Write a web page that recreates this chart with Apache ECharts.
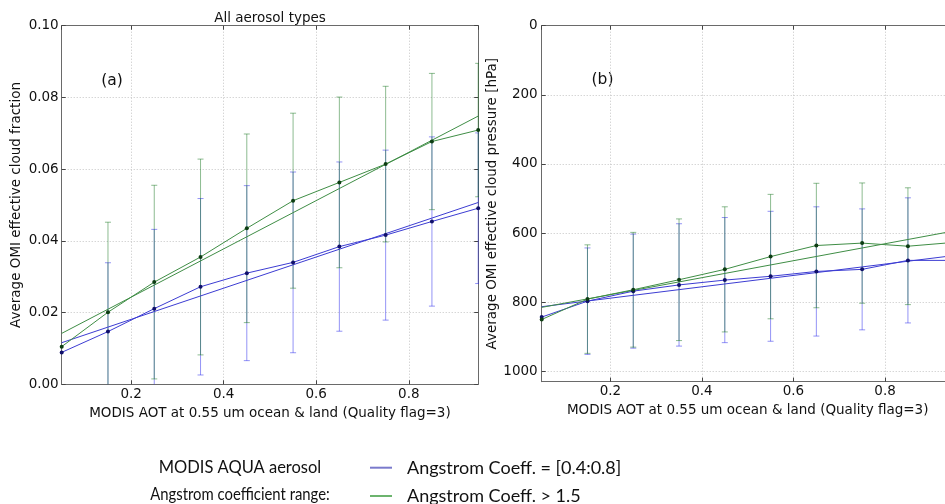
<!DOCTYPE html>
<html>
<head>
<meta charset="utf-8">
<script src="https://cdn.jsdelivr.net/npm/echarts@6/dist/echarts.min.js"></script>
<style>
  html, body { margin: 0; padding: 0; background: #ffffff; }
  #chart { width: 945px; height: 504px; }
</style>
</head>
<body>
<div id="chart"></div>
<script>
// MODIS AOT bin centres (0.55 um)
const aot = [0.05, 0.15, 0.25, 0.35, 0.45, 0.55, 0.65, 0.75, 0.85, 0.95];
// end points of the linear fits
const fitX = [0.05, 0.95];

// (a) mean OMI effective cloud fraction and its standard deviation
const fracBlue      = [0.0089, 0.0147, 0.0211, 0.0272, 0.0310, 0.0340, 0.0384, 0.0416, 0.0454, 0.0491];
const fracBlueStd   = [null,   0.0192, 0.0221, 0.0246, 0.0244, 0.0252, 0.0236, 0.0237, 0.0236, 0.0210];
const fracGreen     = [0.0105, 0.0201, 0.0285, 0.0355, 0.0435, 0.0512, 0.0563, 0.0614, 0.0677, 0.0709];
const fracGreenStd  = [null,   0.0251, 0.0270, 0.0273, 0.0263, 0.0244, 0.0238, 0.0217, 0.0190, 0.0186];
const fracFitBlue   = [0.0116, 0.0507];
const fracFitGreen  = [0.0142, 0.0748];

// (b) mean OMI effective cloud pressure [hPa] and its standard deviation
const presBlue      = [843, 797, 768, 750, 736, 725, 711, 705, 679, 679];
const presBlueStd   = [null, 154, 165, 177, 181, 188, 187, 175, 181, 178];
const presGreen     = [850, 791, 764, 735, 705, 668, 636, 629, 638, 627];
const presGreenStd  = [null, 157, 166, 176, 181, 180, 180, 174, 169, 165];
const presFitBlue   = [813, 665];
const presFitGreen  = [815, 594];

// tick labels
const fracTicks = ['0.00', '0.02', '0.04', '0.06', '0.08', '0.10'];
const presTicks = ['0', '200', '400', '600', '800', '1000'];

const nameA = 'Angstrom Coeff. = [0.4:0.8]';
const nameB = 'Angstrom Coeff. > 1.5';
const xTitle = 'MODIS AOT at 0.55 um ocean & land (Quality flag=3)';

const FONT = 'DejaVu Sans';
const blueLine = '#3c3cd2', greenLine = '#3f8d45';
const blueMark = '#10106a', greenMark = '#0d3d12';
const blueErr = '#2a2aee', greenErr = '#1c7a24';

function errorBars(name, means, stds, color, xi, yi) {
  const data = [];
  aot.forEach((x, i) => {
    if (stds[i] != null) data.push([x, means[i] - stds[i], means[i] + stds[i]]);
  });
  return {
    type: 'custom', name, xAxisIndex: xi, yAxisIndex: yi, clip: true, silent: true, z: 1,
    data,
    encode: { x: 0, y: [1, 2] },
    renderItem(params, api) {
      const x = api.value(0);
      const lo = api.coord([x, api.value(1)]);
      const hi = api.coord([x, api.value(2)]);
      const h = 3;
      const style = { stroke: color, lineWidth: 1, opacity: 0.5 };
      return {
        type: 'group',
        children: [
          { type: 'line', shape: { x1: lo[0], y1: lo[1], x2: hi[0], y2: hi[1] }, style },
          { type: 'line', shape: { x1: lo[0] - h, y1: lo[1], x2: lo[0] + h, y2: lo[1] }, style },
          { type: 'line', shape: { x1: hi[0] - h, y1: hi[1], x2: hi[0] + h, y2: hi[1] }, style }
        ]
      };
    }
  };
}

function fitLine(name, ends, color, xi, yi) {
  return {
    type: 'line', name, xAxisIndex: xi, yAxisIndex: yi, z: 2, silent: true,
    data: fitX.map((x, i) => [x, ends[i]]),
    showSymbol: false, lineStyle: { color, width: 1 }, itemStyle: { color }
  };
}

function dataLine(name, vals, color, mark, xi, yi) {
  return {
    type: 'line', name, xAxisIndex: xi, yAxisIndex: yi, z: 3, silent: true,
    data: aot.map((x, i) => [x, vals[i]]),
    symbol: 'circle', symbolSize: 4, showSymbol: true,
    lineStyle: { color, width: 1 }, itemStyle: { color: mark }
  };
}

const gridLine = { show: true, lineStyle: { color: '#c4c4c4', type: [1, 2], width: 1 } };
const spine = { show: true, onZero: false, lineStyle: { color: '#6a6a6a', width: 1 } };
const tickIn = { show: true, inside: true, length: 4, lineStyle: { color: '#444' } };
const labelStyle = { color: '#111', fontFamily: FONT, fontSize: 13.5 };

function xBottom(gi) {
  return {
    type: 'value', gridIndex: gi, min: 0.05, max: 0.95, position: 'bottom',
    axisLine: spine, axisTick: tickIn, splitLine: gridLine,
    axisLabel: Object.assign({ margin: 3, showMinLabel: false, showMaxLabel: false,
      formatter: v => v.toFixed(1) }, labelStyle),
    name: xTitle, nameLocation: 'middle', nameGap: 14,
    nameTextStyle: { color: '#111', fontFamily: FONT, fontSize: 13.5 }
  };
}
function xTop(gi) {
  return {
    type: 'value', gridIndex: gi, min: 0.05, max: 0.95, position: 'top',
    axisLine: spine, axisTick: tickIn, splitLine: { show: false }, axisLabel: { show: false }
  };
}

function legendRow(name, color, top) {
  return {
    orient: 'horizontal', left: 365, top, padding: 5,
    icon: 'rect', itemWidth: 22, itemHeight: 2,
    selectedMode: false,
    textStyle: { fontFamily: 'Lato', fontSize: 18, color: '#111', lineHeight: 20, padding: [0, 0, 0, 10] },
    data: [{ name, itemStyle: { color } }]
  };
}

const option = {
  animation: false,
  backgroundColor: '#ffffff',
  grid: [
    { left: 61.7, top: 25.7, width: 416.5, height: 358.6, outerBoundsMode: 'none' },
    { left: 541.7, top: 25.7, width: 412, height: 356, outerBoundsMode: 'none' }
  ],
  xAxis: [xBottom(0), xBottom(1), xTop(0), xTop(1)],
  yAxis: [
    {
      type: 'value', gridIndex: 0, min: 0, max: 0.1, interval: 0.02,
      axisLine: spine, axisTick: tickIn, splitLine: gridLine,
      axisLabel: Object.assign({ margin: 3, formatter: (v) => fracTicks[Math.round(v / 0.02)] }, labelStyle),
      name: 'Average OMI effective cloud fraction', nameLocation: 'middle', nameGap: 38,
      nameTextStyle: { color: '#111', fontFamily: FONT, fontSize: 13.5 }
    },
    {
      type: 'value', gridIndex: 1, min: 0, max: 1030, interval: 200, inverse: true,
      axisLine: spine, axisTick: tickIn, splitLine: gridLine,
      axisLabel: Object.assign({ margin: 4, showMaxLabel: false,
        formatter: (v) => presTicks[Math.round(v / 200)] || '' }, labelStyle),
      name: 'Average OMI effective cloud pressure [hPa]', nameLocation: 'middle', nameGap: 33,
      nameTextStyle: { color: '#111', fontFamily: FONT, fontSize: 13.5 }
    },
    {
      type: 'value', gridIndex: 0, min: 0, max: 0.1, interval: 0.02, position: 'right',
      axisLine: spine, axisTick: tickIn, splitLine: { show: false }, axisLabel: { show: false }
    },
    {
      type: 'value', gridIndex: 1, min: 0, max: 1030, interval: 200, inverse: true, position: 'right',
      axisLine: spine, axisTick: tickIn, splitLine: { show: false }, axisLabel: { show: false }
    }
  ],
  legend: [
    legendRow(nameA, '#7a7acc', 452.7),
    legendRow(nameB, '#6cb46e', 481)
  ],
  graphic: [
    { type: 'text', x: 270, y: 18.5, style: { text: 'All aerosol types', fontFamily: FONT, fontSize: 13.5,
      fill: '#111', textAlign: 'center', textVerticalAlign: 'middle' } },
    { type: 'text', x: 112, y: 81, style: { text: '(a)', fontFamily: FONT, fontSize: 15.5,
      fill: '#111', textAlign: 'center', textVerticalAlign: 'middle' } },
    { type: 'text', x: 602.5, y: 80, style: { text: '(b)', fontFamily: FONT, fontSize: 15.5,
      fill: '#111', textAlign: 'center', textVerticalAlign: 'middle' } },
    { type: 'text', x: 240, y: 467.5, style: { text: 'MODIS AQUA aerosol', fontFamily: 'Lato', fontSize: 16.5,
      fill: '#111', textAlign: 'center', textVerticalAlign: 'middle' } },
    { type: 'text', x: 240, y: 495, scaleX: 0.9, originX: 0, originY: 0, style: { text: 'Angstrom coefficient range:',
      fontFamily: 'Lato', fontSize: 16.5, fill: '#111', textAlign: 'center', textVerticalAlign: 'middle' } }
  ],
  series: [
    errorBars(nameA, fracBlue, fracBlueStd, blueErr, 0, 0),
    errorBars(nameB, fracGreen, fracGreenStd, greenErr, 0, 0),
    fitLine(nameA, fracFitBlue, blueLine, 0, 0),
    fitLine(nameB, fracFitGreen, greenLine, 0, 0),
    dataLine(nameA, fracBlue, blueLine, blueMark, 0, 0),
    dataLine(nameB, fracGreen, greenLine, greenMark, 0, 0),

    errorBars(nameA, presBlue, presBlueStd, blueErr, 1, 1),
    errorBars(nameB, presGreen, presGreenStd, greenErr, 1, 1),
    fitLine(nameA, presFitBlue, blueLine, 1, 1),
    fitLine(nameB, presFitGreen, greenLine, 1, 1),
    dataLine(nameA, presBlue, blueLine, blueMark, 1, 1),
    dataLine(nameB, presGreen, greenLine, greenMark, 1, 1)
  ]
};

const chart = echarts.init(document.getElementById('chart'), null, { renderer: 'canvas' });
chart.setOption(option);
</script>
</body>
</html>
